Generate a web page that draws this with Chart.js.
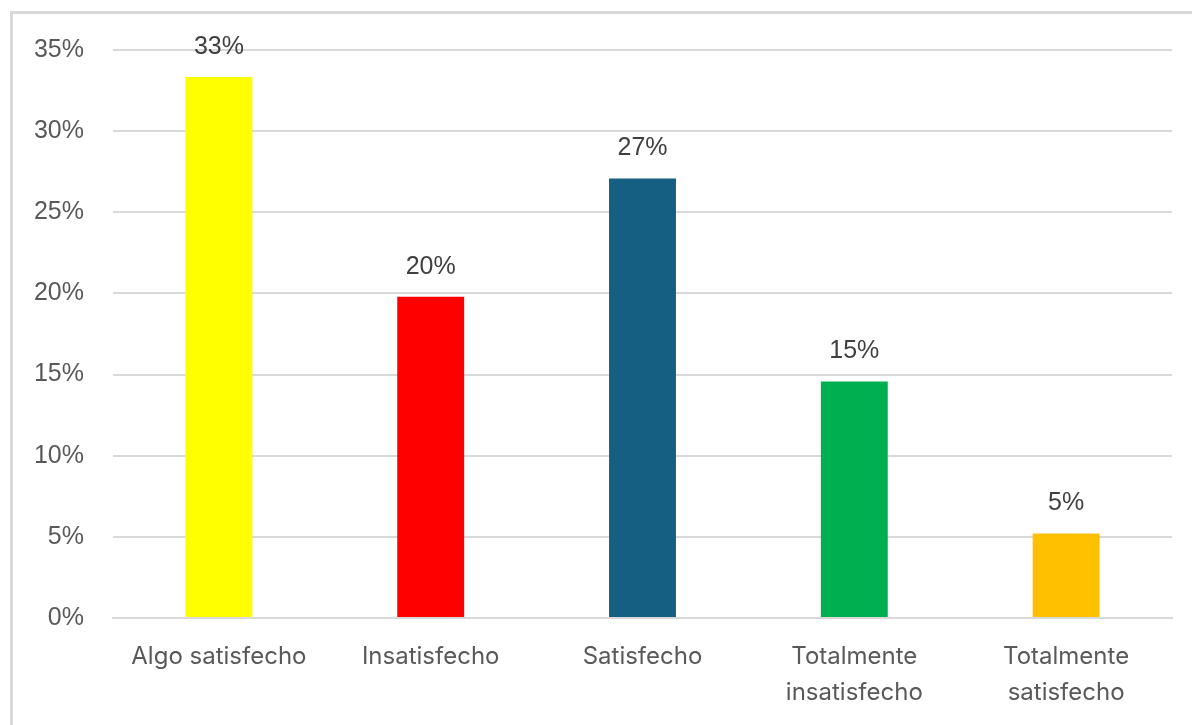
<!DOCTYPE html>
<html>
<head>
<meta charset="utf-8">
<script src="https://cdn.jsdelivr.net/npm/chart.js@4"></script>
<style>
  html, body { margin: 0; padding: 0; background: #fff; overflow: hidden; }
  #frame {
    position: absolute; left: 10px; top: 11px; width: 1300px; height: 800px;
    border-left: 3px solid #d9d9d9; border-top: 3px solid #d9d9d9;
  }
  #wrap { position: absolute; left: 0; top: 0; width: 1192px; height: 725px; }
</style>
</head>
<body>
<div id="frame"></div>
<div id="wrap"><canvas id="chart1"></canvas></div>
<script>
// nivel de satisfaccion (n = 96)
const categorias = ['Algo satisfecho', 'Insatisfecho', 'Satisfecho', ['Totalmente', 'insatisfecho'], ['Totalmente', 'satisfecho']];
const porcentajes = [33.33, 19.79, 27.08, 14.58, 5.21];
const colores = ['#ffff00', '#ff0000', '#156082', '#00b050', '#ffc000'];
const ticksY = [0, 5, 10, 15, 20, 25, 30, 35];

// etiqueta de valor encima de cada barra
const valueLabels = {
    id: 'valueLabels',
    afterDatasetsDraw(chart) {
        const ctx = chart.ctx;
        const meta = chart.getDatasetMeta(0);
        ctx.save();
        ctx.font = '25px "Liberation Sans", Arial, sans-serif';
        ctx.fillStyle = '#404040';
        ctx.textAlign = 'center';
        ctx.textBaseline = 'middle';
        meta.data.forEach(function (bar, i) {
            ctx.fillText(Math.round(porcentajes[i]) + '%', bar.x, bar.y - 30);
        });
        ctx.restore();
    }
};

const ctx = document.getElementById('chart1');

let chart = new Chart(ctx, {
    type: 'bar',
    data: {
        labels: categorias,
        datasets: [{
            data: porcentajes,
            backgroundColor: colores,
            categoryPercentage: 1,
            barPercentage: 0.316
        }]
    },
    options: {
        responsive: true,
        maintainAspectRatio: false,
        animation: false,
        layout: { padding: { top: 50, right: 20, left: 0, bottom: 0 } },
        plugins: {
            legend: { display: false },
            tooltip: { enabled: false }
        },
        scales: {
            x: {
                grid: { display: false, drawTicks: false },
                border: { display: true, color: '#d9d9d9', width: 2 },
                ticks: {
                    color: '#595959',
                    padding: 21,
                    maxRotation: 0,
                    font: { family: 'Inter, "Noto Sans", sans-serif', size: 24, lineHeight: 1.5 }
                },
                afterFit: function (scale) { scale.height = 107; }
            },
            y: {
                min: 0,
                max: 35,
                afterBuildTicks: function (scale) {
                    scale.ticks = ticksY.map(function (v) { return { value: v }; });
                },
                grid: { color: '#d9d9d9', lineWidth: 2, drawTicks: false },
                border: { display: false },
                ticks: {
                    color: '#595959',
                    padding: 29,
                    font: { family: '"Liberation Sans", Arial, sans-serif', size: 25 },
                    callback: function (v) { return v + '%'; }
                },
                afterFit: function (scale) { scale.width = 113; }
            }
        }
    },
    plugins: [valueLabels]
});
</script>
</body>
</html>
